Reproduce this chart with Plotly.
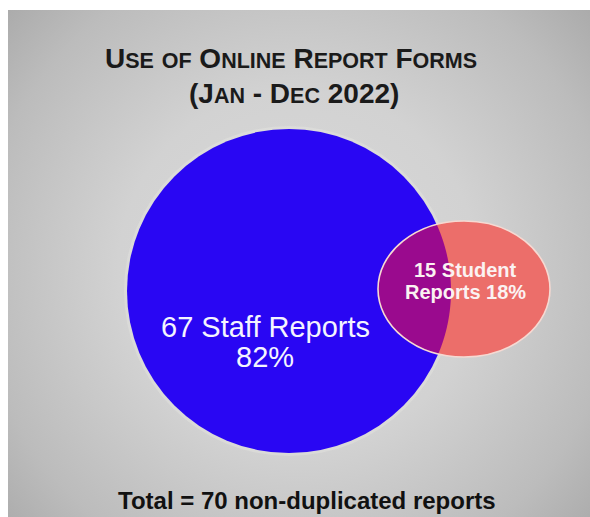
import base64
import numpy as np
import plotly.graph_objects as go

# ---- data ----
groups = ["Staff", "Student"]
report_counts = [67, 15]
report_percents = [82, 18]
total_reports = 70
title_main = "Use of Online Report Forms"
title_period = "(Jan - Dec 2022)"

# ---- layout geometry (pixel space) ----
W, H = 590, 517
staff_c = (289, 291, 162)            # cx, cy, r
stud_c = (464, 289, 86, 68)          # cx, cy, rx, ry

BLUE = "#2906F3"
SALMON = "#EC6E6A"
PURPLE = "#9A0A8E"

fig = go.Figure()
fig.add_trace(go.Scatter(x=[0, W], y=[0, H], mode="markers",
                         marker=dict(opacity=0), hoverinfo="skip", showlegend=False))

# background radial gradient as svg image
svg = f'''<svg xmlns="http://www.w3.org/2000/svg" width="582" height="507" viewBox="0 0 582 507">
<defs><radialGradient id="g" gradientUnits="userSpaceOnUse" cx="290" cy="260" r="400">
<stop offset="0" stop-color="#dadada"/><stop offset="0.45" stop-color="#d2d2d2"/>
<stop offset="0.8" stop-color="#bcbcbc"/><stop offset="1" stop-color="#a9a9a9"/></radialGradient></defs>
<rect width="582" height="507" fill="url(#g)"/></svg>'''
src = "data:image/svg+xml;base64," + base64.b64encode(svg.encode()).decode()
fig.add_layout_image(dict(source=src, xref="paper", yref="paper",
                          x=8 / W, y=1 - 10 / H, sizex=582 / W, sizey=507 / H,
                          xanchor="left", yanchor="top", sizing="stretch", layer="below"))

shapes = []
cx, cy, r = staff_c
# soft glow
shapes.append(dict(type="circle", xref="x", yref="y", x0=cx - r - 3, x1=cx + r + 3,
                   y0=cy - r - 3, y1=cy + r + 3, fillcolor="rgba(240,240,232,0.3)",
                   line=dict(width=0), layer="above"))
shapes.append(dict(type="circle", xref="x", yref="y", x0=cx - r, x1=cx + r,
                   y0=cy - r, y1=cy + r, fillcolor=BLUE, line=dict(width=0), layer="above"))
ex, ey, rx, ry = stud_c
shapes.append(dict(type="circle", xref="x", yref="y", x0=ex - rx, x1=ex + rx,
                   y0=ey - ry, y1=ey + ry, fillcolor=SALMON, line=dict(width=0), layer="above"))

# lens (intersection) polygon
t = np.linspace(0, 2 * np.pi, 1440, endpoint=False)
epts = np.c_[ex + rx * np.cos(t), ey + ry * np.sin(t)]
cpts = np.c_[cx + r * np.cos(t), cy + r * np.sin(t)]
in_c = (epts[:, 0] - cx) ** 2 + (epts[:, 1] - cy) ** 2 <= r ** 2
in_e = ((cpts[:, 0] - ex) / rx) ** 2 + ((cpts[:, 1] - ey) / ry) ** 2 <= 1
pts = np.vstack([epts[in_c], cpts[in_e]])
ctr = pts.mean(axis=0)
ang = np.arctan2(pts[:, 1] - ctr[1], pts[:, 0] - ctr[0])
pts = pts[np.argsort(ang)]
path = "M " + " L ".join(f"{px:.2f},{py:.2f}" for px, py in pts) + " Z"
shapes.append(dict(type="path", xref="x", yref="y", path=path, fillcolor=PURPLE,
                   line=dict(width=0), layer="above"))
shapes.append(dict(type="circle", xref="x", yref="y", x0=ex - rx, x1=ex + rx,
                   y0=ey - ry, y1=ey + ry, fillcolor="rgba(0,0,0,0)",
                   line=dict(color="#F6D9D2", width=1.6), layer="above"))

FONT = "Liberation Sans"


def small_caps(text, small):
    out = []
    for word in text.split(" "):
        if word[0] == "(":
            lead, body = "(" + word[1], word[2:]
        elif word[0].isupper():
            lead, body = word[0], word[1:]
        elif word[0].isalpha():
            lead, body = "", word
        else:
            lead, body = word, ""
        tail = ""
        if body and not body[-1].isalpha():
            body, tail = body[:-1], body[-1]
        s = lead
        if body:
            s += f"<span style='font-size:{small}px'>{body.upper()}</span>"
        out.append(s + tail)
    return "<b>" + " ".join(out) + "</b>"


annotations = [
    dict(x=291, y=58, text=small_caps(title_main, 21.5),
         font=dict(family=FONT, size=28, color="#1a1a1a")),
    dict(x=294, y=93, text=small_caps(title_period, 21.5),
         font=dict(family=FONT, size=28, color="#1a1a1a")),
    dict(x=265, y=327, text=f"{report_counts[0]} {groups[0]} Reports",
         font=dict(family=FONT, size=29, color="#f4f4ff")),
    dict(x=265, y=357, text=f"{report_percents[0]}%",
         font=dict(family=FONT, size=29, color="#f4f4ff")),
    dict(x=465, y=270, text=f"<b>{report_counts[1]} {groups[1]}</b>",
         font=dict(family=FONT, size=20, color="#fbf2f2")),
    dict(x=465, y=292, text=f"<b>Reports {report_percents[1]}%</b>",
         font=dict(family=FONT, size=20, color="#fbf2f2")),
    dict(x=307, y=500, text=f"<b>Total = {total_reports} non-duplicated reports</b>",
         font=dict(family=FONT, size=24, color="#111111")),
]
for a in annotations:
    a.update(xref="x", yref="y", showarrow=False, xanchor="center", yanchor="middle")

fig.update_layout(
    width=W, height=H, margin=dict(l=0, r=0, t=0, b=0),
    paper_bgcolor="white", plot_bgcolor="rgba(0,0,0,0)",
    xaxis=dict(range=[0, W], visible=False, fixedrange=True),
    yaxis=dict(range=[H, 0], visible=False, fixedrange=True),
    shapes=shapes, annotations=annotations, showlegend=False,
)
fig.write_html("out.html")
